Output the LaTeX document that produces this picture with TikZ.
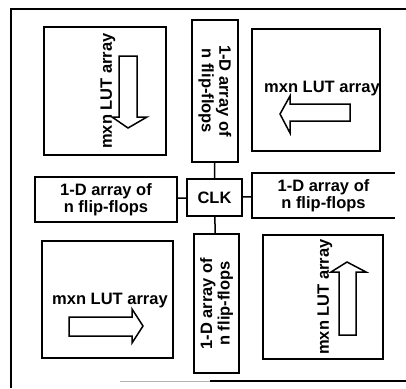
\documentclass[tikz,border=0pt]{standalone}
\usepackage{fontspec}
\setmainfont{Liberation Sans}
\begin{document}
\begin{tikzpicture}[x=1pt,y=-1pt,line join=miter,font=\fontsize{16.5}{17.5}\selectfont\bfseries,
	box/.style={draw,line width=1.8pt,inner sep=0pt},
	ffbox/.style={box,align=center},
	blockarrow/.style={draw,line width=1.5pt,fill=white},
	link/.style={line width=1.5pt}]
	\useasboundingbox (0,0) rectangle (406,388);
	% frame
	\draw[line width=1.5pt] (406,9) -- (11,9) -- (11,388);
	\draw[line width=1pt,gray!60] (120,381) -- (210,381);
	\draw[line width=1.5pt] (210,381) -- (406,381);
	% LUT arrays
	\node[box,minimum width=122,minimum height=128] (lutTL) at (105,91) {};
	\node[box,minimum width=128,minimum height=122] (lutTR) at (316,90) {};
	\node[box,minimum width=131,minimum height=117] (lutBL) at (107.5,299.5) {};
	\node[box,minimum width=120,minimum height=124] (lutBR) at (323,297) {};
	\node[rotate=90] (lutTLtext) at (108,91) {mxn LUT array};
	\node (lutTRtext) at (322,89) {mxn LUT array};
	\node (lutBLtext) at (110,301) {mxn LUT array};
	\node[rotate=90] (lutBRtext) at (325,297) {mxn LUT array};
	\draw[blockarrow] (119,56) -- (137,56) -- (137,117) -- (147,117) -- (128,128) -- (112,117) -- (119,117) -- cycle;
	\draw[blockarrow] (350,104) -- (350,121) -- (290,121) -- (290,133) -- (280,114) -- (290,96) -- (290,104) -- cycle;
	\draw[blockarrow] (69,317) -- (132,317) -- (132,309) -- (143,326) -- (132,343) -- (132,336) -- (69,336) -- cycle;
	\draw[blockarrow] (339,335) -- (339,272) -- (331,272) -- (347,262) -- (366,272) -- (356,272) -- (356,335) -- cycle;
	% flip-flop rows and CLK
	\node[ffbox,rotate=-90,minimum width=142,minimum height=46] (ffT) at (215,91) {1-D array of\\n flip-flops};
	\node[ffbox,rotate=90,minimum width=139,minimum height=45] (ffB) at (216.5,303.5) {1-D array of\\n flip-flops};
	\node[ffbox,minimum width=142,minimum height=45] (ffL) at (106,199.5) {1-D array of\\n flip-flops};
	\node[align=center,inner sep=0pt,minimum width=143,minimum height=45] (ffR) at (323.5,195.5) {1-D array of\\n flip-flops};
	\draw[line width=1.8pt] (ffR.north east) -- (ffR.north west) -- (ffR.south west) -- (ffR.south east);
	\node[box,minimum width=55,minimum height=37] (clk) at (214.5,197.5) {CLK};
	\draw[link] (clk) -- (ffT);
	\draw[link] (clk) -- (ffB);
	\draw[link] (clk) -- (ffL);
	\draw[link] (clk) -- (ffR);
\end{tikzpicture}
\end{document}
